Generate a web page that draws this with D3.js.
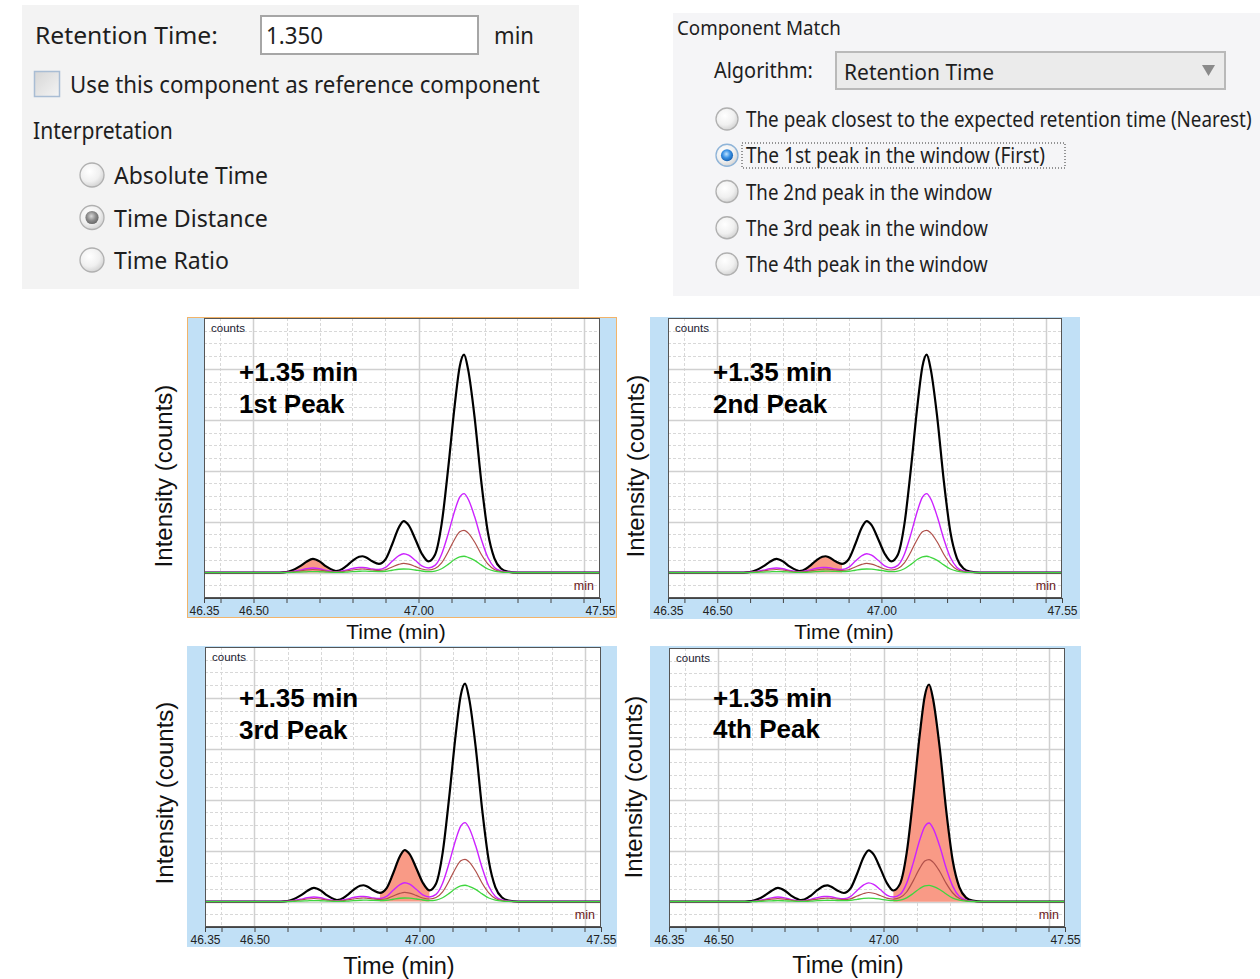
<!DOCTYPE html>
<html lang="en">
<head>
<meta charset="UTF-8">
<title>Component Match - Retention Time window</title>
<script src="https://cdnjs.cloudflare.com/ajax/libs/d3/7.8.5/d3.min.js"></script>
<style>
    body { margin: 0; background: #fff; }
    svg { display: block; }
    .ui text { font-family: "Segoe UI", "Noto Sans", "Open Sans", sans-serif; fill: #1e1e1e; }
    .chart text { font-family: Arial, "Liberation Sans", sans-serif; }
</style>
</head>
<body>
<div id="figure"></div>
<script>
    // Retention time (min) of each sample
    const times = [46.35, 46.58, 46.60, 46.62, 46.64, 46.66, 46.68, 46.70, 46.72, 46.74,
                   46.75, 46.76, 46.78, 46.80, 46.82, 46.83, 46.84, 46.86, 46.88, 46.90,
                   46.92, 46.94, 46.955, 46.97, 46.99, 47.01, 47.03, 47.05, 47.07, 47.09,
                   47.11, 47.125, 47.138, 47.15, 47.17, 47.19, 47.21, 47.23, 47.25, 47.27,
                   47.30, 47.55];

    // Intensities (x1e5 counts)
    const totalCounts = [0, 0, 0.01, 0.05, 0.12, 0.21, 0.27, 0.22, 0.12, 0.05,
                         0.03, 0.04, 0.12, 0.23, 0.31, 0.32, 0.30, 0.22, 0.17, 0.26,
                         0.55, 0.88, 1.01, 0.93, 0.66, 0.37, 0.22, 0.35, 0.95, 2.05,
                         3.3, 4.05, 4.28, 4.0, 3.05, 1.8, 0.8, 0.28, 0.08, 0.02,
                         0, 0];
    const ionMagenta = [0, 0, 0.005, 0.02, 0.045, 0.075, 0.09, 0.075, 0.04, 0.02,
                        0.015, 0.02, 0.045, 0.08, 0.10, 0.10, 0.095, 0.07, 0.06, 0.10,
                        0.22, 0.33, 0.37, 0.34, 0.24, 0.13, 0.09, 0.14, 0.36, 0.76,
                        1.22, 1.48, 1.55, 1.45, 1.1, 0.66, 0.3, 0.1, 0.03, 0.01,
                        0, 0];
    const ionBrown = [0, 0, 0.003, 0.012, 0.03, 0.05, 0.06, 0.05, 0.028, 0.012,
                      0.01, 0.012, 0.03, 0.05, 0.065, 0.07, 0.065, 0.05, 0.04, 0.055,
                      0.11, 0.16, 0.18, 0.165, 0.12, 0.07, 0.05, 0.08, 0.19, 0.41,
                      0.66, 0.8, 0.83, 0.78, 0.6, 0.36, 0.17, 0.06, 0.02, 0.005,
                      0, 0];
    const ionGreen = [0, 0, 0, 0.004, 0.01, 0.015, 0.02, 0.016, 0.01, 0.005,
                      0.004, 0.005, 0.01, 0.018, 0.025, 0.027, 0.026, 0.022, 0.02, 0.025,
                      0.045, 0.065, 0.07, 0.066, 0.05, 0.03, 0.02, 0.03, 0.075, 0.16,
                      0.26, 0.31, 0.32, 0.3, 0.24, 0.15, 0.07, 0.03, 0.01, 0.003,
                      0, 0];

    // Which peak gets picked in each panel, and its integration window (min)
    const peakLabels = ["1st Peak", "2nd Peak", "3rd Peak", "4th Peak"];
    const peakWindows = [[46.60, 46.75], [46.75, 46.88], [46.88, 47.03], [47.03, 47.30]];
    const shiftLabel = "+1.35 min";

    // Axis ticks
    const tickValues = [46.35, 46.40, 46.50, 46.60, 46.70, 46.80, 46.90, 47.00,
                        47.10, 47.20, 47.30, 47.40, 47.50, 47.55];
    const labelledTicks = [46.35, 46.50, 47.00, 47.55];
    const majorTimes = [46.50, 47.00, 47.50];

    // Dialog contents
    const retentionValue = "1.350";
    const interpretationOptions = ["Absolute Time", "Time Distance", "Time Ratio"];
    const matchOptions = [
        "The peak closest to the expected retention time (Nearest)",
        "The 1st peak in the window (First)",
        "The 2nd peak in the window",
        "The 3rd peak in the window",
        "The 4th peak in the window"
    ];

    const width = 1260;
    const height = 979;

    const svg = d3.select("#figure")
        .append("svg")
        .attr("width", width)
        .attr("height", height);

    const defs = svg.append("defs");

    function radial(id, stops, cx, cy) {
        const gr = defs.append("radialGradient")
            .attr("id", id)
            .attr("cx", cx || "40%")
            .attr("cy", cy || "35%")
            .attr("r", "70%");
        stops.forEach(s => gr.append("stop").attr("offset", s[0]).attr("stop-color", s[1]));
    }
    radial("radioOff", [["0%", "#ffffff"], ["60%", "#f0f0f0"], ["100%", "#cfcfcf"]]);
    radial("dotGrey", [["0%", "#d8d8d8"], ["50%", "#8a8a8a"], ["100%", "#5a5a5a"]], "45%", "40%");
    radial("dotBlue", [["0%", "#bfe3ff"], ["45%", "#3a92e6"], ["100%", "#0b4f9c"]], "45%", "40%");

    const boxGrad = defs.append("linearGradient")
        .attr("id", "boxGrad")
        .attr("x1", 0).attr("y1", 0).attr("x2", 1).attr("y2", 1);
    boxGrad.append("stop").attr("offset", "0%").attr("stop-color", "#d6d6d6");
    boxGrad.append("stop").attr("offset", "100%").attr("stop-color", "#f4f4f4");

    // dialog text is narrower than the fallback font, so squeeze it to the measured width
    function uiText(g, x, y, str, size, len) {
        const t = g.append("text")
            .attr("font-size", size)
            .text(str);
        const natural = t.node().getComputedTextLength();
        const sx = natural > 0 ? len / natural : 1;
        t.attr("transform", `translate(${x},${y}) scale(${sx},1)`);
        return t;
    }

    function radio(g, cx, cy, r, dot) {
        g.append("circle")
            .attr("cx", cx).attr("cy", cy).attr("r", r)
            .attr("fill", "url(#radioOff)")
            .attr("stroke", dot === "dotBlue" ? "#8fb4d8" : "#b0b0b0")
            .attr("stroke-width", 1.3);
        if (dot) {
            g.append("circle")
                .attr("cx", cx).attr("cy", cy).attr("r", r * 0.55)
                .attr("fill", `url(#${dot})`);
        }
    }

    // ---- left dialog: retention time ----
    const left = svg.append("g").attr("class", "ui");
    left.append("rect")
        .attr("x", 22).attr("y", 5).attr("width", 557).attr("height", 284)
        .attr("fill", "#f3f3f3");
    uiText(left, 35, 44, "Retention Time:", 23, 183);
    left.append("rect")
        .attr("x", 261).attr("y", 16).attr("width", 217).attr("height", 38)
        .attr("fill", "#fff")
        .attr("stroke", "#a6a6a6")
        .attr("stroke-width", 2);
    uiText(left, 266, 44, retentionValue, 23, 57);
    uiText(left, 494, 44, "min", 23, 40);
    left.append("rect")
        .attr("x", 34.5).attr("y", 71.5).attr("width", 25).attr("height", 25)
        .attr("fill", "url(#boxGrad)")
        .attr("stroke", "#a9bdd4")
        .attr("stroke-width", 1.5);
    uiText(left, 70, 93, "Use this component as reference component", 23, 470);
    uiText(left, 33, 139, "Interpretation", 23, 140);
    const interpWidths = [154, 154, 115];
    interpretationOptions.forEach((d, i) => {
        const cy = 175 + i * 42.5;
        radio(left, 92, cy, 12, i === 1 ? "dotGrey" : null);
        uiText(left, 114, cy + 9, d, 23, interpWidths[i]);
    });

    // ---- right dialog: component match ----
    const right = svg.append("g").attr("class", "ui");
    right.append("rect")
        .attr("x", 673).attr("y", 13).attr("width", 587).attr("height", 283)
        .attr("fill", "#f5f5f7");
    uiText(right, 677, 35, "Component Match", 20, 164);
    uiText(right, 714, 78, "Algorithm:", 21, 99);
    right.append("rect")
        .attr("x", 836).attr("y", 52).attr("width", 389).attr("height", 37)
        .attr("fill", "#ebebeb")
        .attr("stroke", "#b9b9b9")
        .attr("stroke-width", 2);
    uiText(right, 844, 80, "Retention Time", 22, 150);
    right.append("path")
        .attr("d", "M1202,65 L1215,65 L1208.5,76 Z")
        .attr("fill", "#8a8a8a");
    const optWidths = [506, 299, 246, 242, 242];
    matchOptions.forEach((d, i) => {
        const cy = 119 + i * 36.25;
        radio(right, 727, cy, 11, i === 1 ? "dotBlue" : null);
        uiText(right, 746, cy + 8, d, 21, optWidths[i]);
    });
    right.append("rect")
        .attr("x", 742).attr("y", 143).attr("width", 323).attr("height", 25)
        .attr("fill", "none")
        .attr("stroke", "#333")
        .attr("stroke-dasharray", "1,2");

    // ---- chromatogram panels ----
    const panels = [
        { frame: [187, 317, 430, 301], plot: [204, 318, 396, 280], yLab: [172, 476], xLab: [396, 639, 21], note: [239, 381, 413], selected: true },
        { frame: [650, 317, 430, 302], plot: [668, 318, 394, 280], yLab: [644, 466], xLab: [844, 639, 21], note: [713, 381, 413] },
        { frame: [187, 646, 430, 301], plot: [205, 647, 396, 280], yLab: [173, 793], xLab: [399, 974, 23.5], note: [239, 707, 739] },
        { frame: [650, 646, 431, 301], plot: [669, 648, 396, 279], yLab: [642, 787], xLab: [848, 973, 23.5], note: [713, 707, 738] }
    ];

    const traces = [
        { values: totalCounts, color: "#000000", width: 2.2 },
        { values: ionMagenta, color: "#cc22ff", width: 1.4 },
        { values: ionBrown, color: "#b0504a", width: 1.2 },
        { values: ionGreen, color: "#3fd63f", width: 1.3 }
    ];

    panels.forEach((p, k) => {
        const [px, py, pw, ph] = p.plot;
        const x = d3.scaleLinear().domain([46.35, 47.55]).range([px, px + pw]);
        const y = d3.scaleLinear().domain([-0.5, 5.0]).range([py + ph, py]);

        const g = svg.append("g").attr("class", "chart");

        g.append("rect")
            .attr("x", p.frame[0]).attr("y", p.frame[1])
            .attr("width", p.frame[2]).attr("height", p.frame[3])
            .attr("fill", "#c1e0f6");
        if (p.selected) {
            g.append("rect")
                .attr("x", p.frame[0] + 0.5).attr("y", p.frame[1] + 0.5)
                .attr("width", p.frame[2] - 1).attr("height", p.frame[3] - 1)
                .attr("fill", "none")
                .attr("stroke", "#f2b46a");
        }
        g.append("rect")
            .attr("x", px).attr("y", py).attr("width", pw).attr("height", ph)
            .attr("fill", "#fff");

        const clipId = "plotClip" + k;
        defs.append("clipPath").attr("id", clipId)
            .append("rect").attr("x", px).attr("y", py).attr("width", pw).attr("height", ph);

        const plot = g.append("g").attr("clip-path", `url(#${clipId})`);

        // grid
        const minorY = d3.range(-0.25, 5, 0.25).filter(v => Math.abs(v - Math.round(v)) > 0.01);
        const majorY = d3.range(0, 5, 1);
        plot.selectAll(".gy-minor").data(minorY).join("line")
            .attr("x1", px).attr("x2", px + pw)
            .attr("y1", d => Math.round(y(d)) + 0.5).attr("y2", d => Math.round(y(d)) + 0.5)
            .attr("stroke", "#d8d8d8").attr("stroke-dasharray", "3,2");
        plot.selectAll(".gx-minor").data(tickValues.filter(t => !majorTimes.includes(t)))
            .join("line")
            .attr("x1", d => Math.round(x(d)) + 0.5).attr("x2", d => Math.round(x(d)) + 0.5)
            .attr("y1", py).attr("y2", py + ph)
            .attr("stroke", "#d8d8d8").attr("stroke-dasharray", "3,2");
        plot.selectAll(".gy-major").data(majorY).join("line")
            .attr("x1", px).attr("x2", px + pw)
            .attr("y1", d => Math.round(y(d)) + 0.5).attr("y2", d => Math.round(y(d)) + 0.5)
            .attr("stroke", "#d0d0d0").attr("stroke-width", 1.5);
        plot.selectAll(".gx-major").data(majorTimes).join("line")
            .attr("x1", d => Math.round(x(d)) + 0.5).attr("x2", d => Math.round(x(d)) + 0.5)
            .attr("y1", py).attr("y2", py + ph)
            .attr("stroke", "#d0d0d0").attr("stroke-width", 1.5);

        // highlighted peak
        const win = peakWindows[k];
        const fillId = "peakClip" + k;
        defs.append("clipPath").attr("id", fillId)
            .append("rect")
            .attr("x", x(win[0])).attr("y", py)
            .attr("width", x(win[1]) - x(win[0])).attr("height", ph);
        const area = d3.area()
            .x((d, i) => x(times[i]))
            .y0(y(0))
            .y1(d => y(d))
            .curve(d3.curveMonotoneX);
        plot.append("path")
            .attr("clip-path", `url(#${fillId})`)
            .attr("d", area(totalCounts))
            .attr("fill", "#f99a86");

        const line = d3.line()
            .x((d, i) => x(times[i]))
            .y(d => y(d))
            .curve(d3.curveMonotoneX);
        traces.forEach(t => {
            plot.append("path")
                .attr("d", line(t.values))
                .attr("fill", "none")
                .attr("stroke", t.color)
                .attr("stroke-width", t.width)
                .attr("stroke-linejoin", "round");
        });

        g.append("rect")
            .attr("x", px + 0.5).attr("y", py + 0.5).attr("width", pw - 1).attr("height", ph - 1)
            .attr("fill", "none")
            .attr("stroke", "#555");

        // x axis
        const axis = d3.axisBottom(x)
            .tickValues(tickValues)
            .tickSize(5)
            .tickPadding(3)
            .tickFormat(d => labelledTicks.includes(d) ? d3.format(".2f")(d) : "");
        const ax = g.append("g")
            .attr("transform", `translate(0,${py + ph})`)
            .call(axis);
        ax.select(".domain").attr("stroke", "#444");
        ax.selectAll(".tick line").attr("stroke", "#444");
        ax.selectAll(".tick text")
            .attr("font-size", 12)
            .attr("font-family", "Arial, 'Liberation Sans', sans-serif")
            .attr("fill", "#222");

        // labels inside the plot
        g.append("text")
            .attr("x", px + 7).attr("y", py + 14)
            .attr("font-size", 11.5)
            .attr("fill", "#1a1a30")
            .text("counts");
        g.append("text")
            .attr("x", px + pw - 6).attr("y", py + ph - 8)
            .attr("text-anchor", "end")
            .attr("font-size", 12.5)
            .attr("fill", "#6a1a1a")
            .text("min");

        g.append("text")
            .attr("x", p.note[0]).attr("y", p.note[1])
            .attr("font-size", 26)
            .attr("font-weight", "bold")
            .attr("fill", "#000")
            .text(shiftLabel);
        g.append("text")
            .attr("x", p.note[0]).attr("y", p.note[2])
            .attr("font-size", 26)
            .attr("font-weight", "bold")
            .attr("fill", "#000")
            .text(peakLabels[k]);

        // axis titles
        g.append("text")
            .attr("transform", `translate(${p.yLab[0]},${p.yLab[1]}) rotate(-90)`)
            .attr("text-anchor", "middle")
            .attr("font-size", 24)
            .attr("fill", "#111")
            .text("Intensity (counts)");
        g.append("text")
            .attr("x", p.xLab[0]).attr("y", p.xLab[1])
            .attr("text-anchor", "middle")
            .attr("font-size", p.xLab[2])
            .attr("fill", "#111")
            .text("Time (min)");
    });
</script>
</body>
</html>
